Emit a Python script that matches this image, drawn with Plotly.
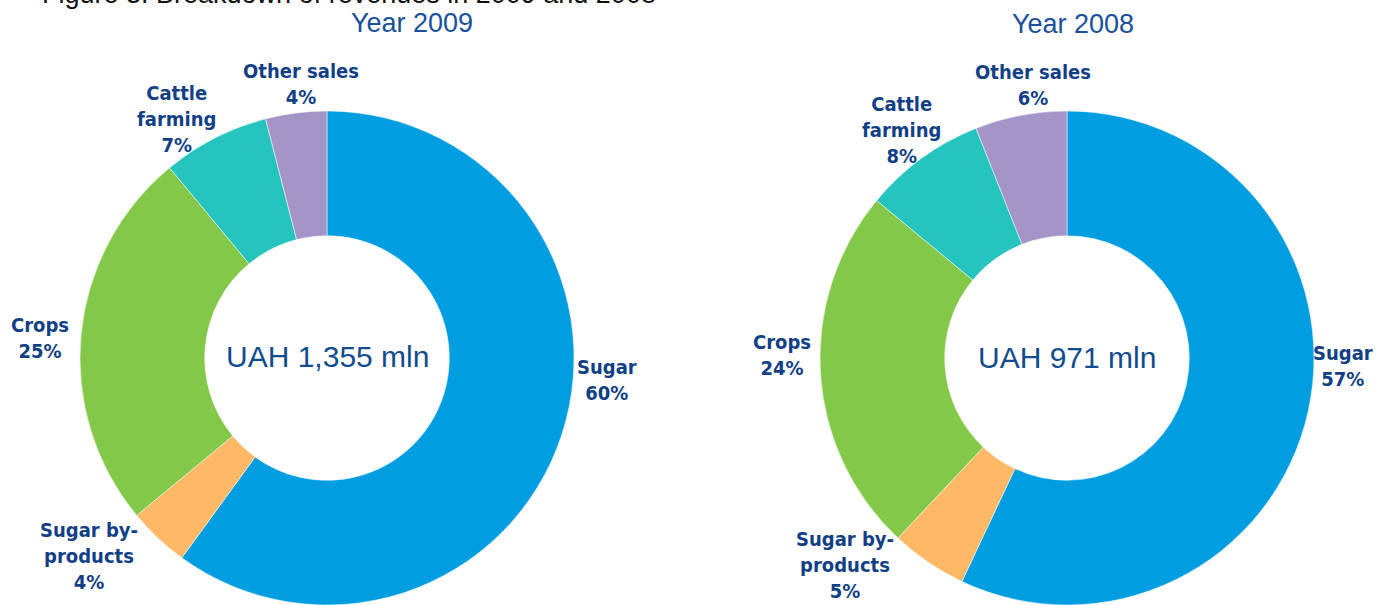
import plotly.graph_objects as go

# Revenue breakdown data
categories = ["Sugar", "Sugar by-products", "Crops", "Cattle farming", "Other sales"]
label_text = ["Sugar", "Sugar by-<br>products", "Crops", "Cattle<br>farming", "Other sales"]
share_2009 = [60, 4, 25, 7, 4]
share_2008 = [57, 5, 24, 8, 6]
total_2009 = "UAH 1,355 mln"
total_2008 = "UAH 971 mln"
years = ["Year 2009", "Year 2008"]

colors = ["#009EE0", "#FFB866", "#84C84A", "#26C4BF", "#A494C8"]

W, H = 1387, 605
NAVY = "#123F85"
TITLE_BLUE = "#1A509A"


def px(x):
    return x / W


def py(y):
    return 1 - y / H


fig = go.Figure()

domains = [
    dict(x=[px(80), px(574)], y=[0, py(111)]),
    dict(x=[px(820), px(1314)], y=[0, py(111)]),
]

for share, dom in zip([share_2009, share_2008], domains):
    fig.add_trace(go.Pie(
        labels=categories,
        values=share,
        hole=0.495,
        sort=False,
        direction="clockwise",
        rotation=0,
        marker=dict(colors=colors, line=dict(color="white", width=0.5)),
        textinfo="none",
        hoverinfo="label+percent",
        domain=dom,
        showlegend=False,
    ))

annotations = []

# Slice labels placed around each ring
label_pos_2009 = [(607, 380), (89, 556), (40, 338), (176, 119), (301, 84)]
label_pos_2008 = [(1343, 366), (845, 565), (782, 355), (901, 130), (1033, 85)]

for share, positions in [(share_2009, label_pos_2009), (share_2008, label_pos_2008)]:
    for lab, val, (x, y) in zip(label_text, share, positions):
        annotations.append(dict(
            x=px(x), y=py(y), xref="paper", yref="paper",
            text=f"<b>{lab}<br>{val}%</b>", showarrow=False,
            xanchor="center", yanchor="middle", align="center",
            font=dict(family="DejaVu Sans Condensed", size=20, color=NAVY),
        ))

# Totals in the donut holes
for txt, (x, y) in zip([total_2009, total_2008], [(327, 356), (1067, 357)]):
    annotations.append(dict(
        x=px(x), y=py(y), xref="paper", yref="paper", text=txt,
        showarrow=False, xanchor="center", yanchor="middle",
        font=dict(family="Liberation Sans", size=30, color="#124C8E"),
    ))

# Chart headings
for txt, (x, y) in zip(years, [(412, 23), (1073, 24)]):
    annotations.append(dict(
        x=px(x), y=py(y), xref="paper", yref="paper", text=txt,
        showarrow=False, xanchor="center", yanchor="middle",
        font=dict(family="Liberation Sans", size=27, color=TITLE_BLUE),
    ))

# Figure caption running off the top edge
annotations.append(dict(
    x=px(40), y=py(-6), xref="paper", yref="paper",
    text="Figure 3. Breakdown of revenues in 2009 and 2008",
    showarrow=False, xanchor="left", yanchor="middle",
    font=dict(family="Liberation Sans", size=27, color="#111111"),
))

fig.update_layout(
    width=W, height=H,
    margin=dict(l=0, r=0, t=0, b=0),
    paper_bgcolor="white", plot_bgcolor="white",
    annotations=annotations,
)

fig.write_html("out.html", config={"displayModeBar": False})
